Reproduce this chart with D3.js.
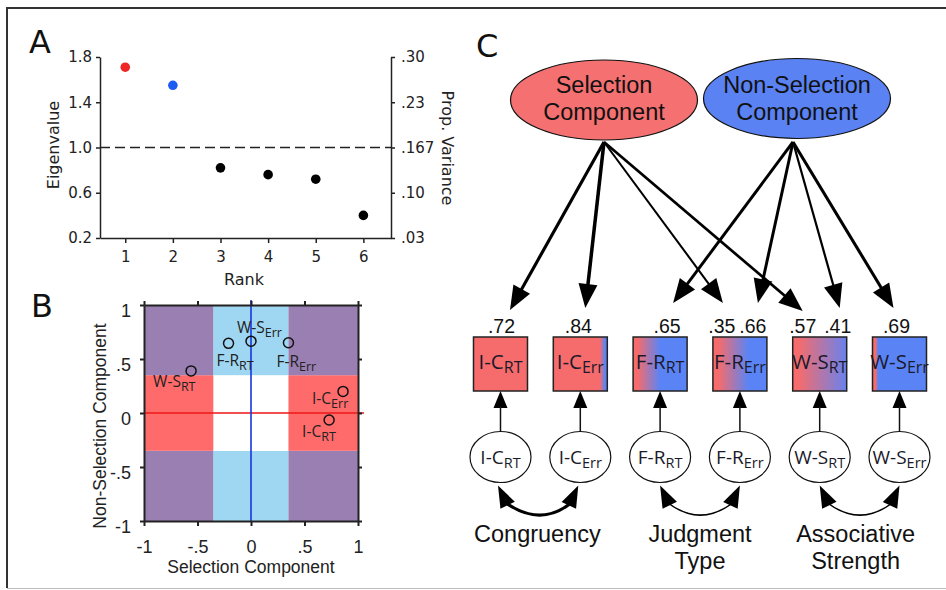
<!DOCTYPE html>
<html>
<head>
<meta charset="utf-8">
<script src="https://cdn.jsdelivr.net/npm/d3@7"></script>
<style>body{margin:0;background:#fff}</style>
</head>
<body>
<script>
// ---- data ----
// panel A: scree plot
var ranks = [1, 2, 3, 4, 5, 6];
var eigenvalues = [1.71, 1.55, 0.82, 0.76, 0.72, 0.40];
var eigenTicks = [0.2, 0.6, 1.0, 1.4, 1.8];
var varianceTickLabels = [".03", ".10", ".167", ".23", ".30"];

// panel B: loadings of each measure on the two components
var measures = ["I-C_RT", "I-C_Err", "F-R_RT", "F-R_Err", "W-S_RT", "W-S_Err"];
var measureMain = ["I-C", "I-C", "F-R", "F-R", "W-S", "W-S"];
var measureSub = ["RT", "Err", "RT", "Err", "RT", "Err"];
var selectionLoadings = [0.73, 0.86, -0.21, 0.35, -0.56, 0.0];
var nonSelectionLoadings = [-0.065, 0.20, 0.645, 0.65, 0.39, 0.665];
var loadingTicks = [-1, -0.5, 0, 0.5, 1];
var loadingTickLabels = ["-1", "-.5", "0", ".5", "1"];
var cutoff = 0.35;

// panel C: path diagram
var selTargets = ["I-C_RT", "I-C_Err", "F-R_Err", "W-S_RT"];
var selPathLoadings = [0.72, 0.84, 0.35, 0.57];
var nonSelTargets = ["F-R_RT", "F-R_Err", "W-S_RT", "W-S_Err"];
var nonSelPathLoadings = [0.65, 0.66, 0.41, 0.69];
var groupNames = [["Congruency"], ["Judgment", "Type"], ["Associative", "Strength"]];

// ---- style ----
var RED = "#f66c6c", BLUE = "#5a84f5";
var sans = "'Liberation Sans', Arial, sans-serif";
var lucida = "'DejaVu Sans', sans-serif";
var calibri = "'Open Sans', sans-serif";

var svg = d3.select("body").append("svg")
    .attr("width", 946)
    .attr("height", 590);

// frame
svg.append("path")
    .attr("d", "M946,8H7V588")
    .attr("fill", "none").attr("stroke", "#333").attr("stroke-width", 2);
svg.append("line")
    .attr("x1", 7).attr("x2", 946).attr("y1", 588.5).attr("y2", 588.5)
    .attr("stroke", "#bbb").attr("stroke-width", 1);

function panelLetter(x, y, t) {
    svg.append("text").attr("x", x).attr("y", y)
        .attr("font-family", lucida).attr("font-size", 32).attr("fill", "#111")
        .text(t);
}

function styleAxis(g, font, size, width) {
    g.attr("font-family", font).attr("font-size", size);
    g.selectAll(".domain").attr("stroke", "#222").attr("stroke-width", width);
    g.selectAll(".tick line").attr("stroke", "#222").attr("stroke-width", width);
    g.selectAll("text").attr("fill", "#222");
}

function subText(sel, main, sub, subSize, shift) {
    sel.append("tspan").text(main);
    sel.append("tspan").attr("font-size", subSize).attr("dy", shift).text(sub);
}

// ================= Panel A =================
panelLetter(29, 53, "A");

var xA = d3.scaleLinear().domain([0.47, 6.58]).range([100, 391]);
var yA = d3.scaleLinear().domain([0.2, 1.8]).range([238, 57]);
var yVar = d3.scaleLinear().domain([0.2 / 6, 1.8 / 6]).range([238, 57]);

var gA = svg.append("g");

gA.append("line")
    .attr("x1", xA.range()[0]).attr("x2", xA.range()[1])
    .attr("y1", yA(1.0)).attr("y2", yA(1.0))
    .attr("stroke", "#222").attr("stroke-width", 1.3)
    .attr("stroke-dasharray", "10,5");

var axL = gA.append("g").attr("transform", "translate(100,0)")
    .call(d3.axisLeft(yA).tickValues(eigenTicks).tickFormat(d3.format(".1f"))
        .tickSize(4).tickPadding(4).tickSizeOuter(0));
styleAxis(axL, lucida, 15, 1.5);

var axR = gA.append("g").attr("transform", "translate(391,0)")
    .call(d3.axisRight(yVar).tickValues(eigenTicks.map(v => v / 6))
        .tickFormat((d, i) => varianceTickLabels[i])
        .tickSize(4).tickPadding(6).tickSizeOuter(0));
styleAxis(axR, lucida, 15, 1.5);

var axB = gA.append("g").attr("transform", "translate(0,238)")
    .call(d3.axisBottom(xA).tickValues(ranks).tickFormat(d3.format("d"))
        .tickSize(5).tickPadding(8).tickSizeOuter(0));
styleAxis(axB, lucida, 15, 1.5);

gA.selectAll("circle.eig")
    .data(eigenvalues)
    .enter().append("circle")
    .attr("class", "eig")
    .attr("cx", (d, i) => xA(ranks[i]))
    .attr("cy", d => yA(d))
    .attr("r", 4.8)
    .attr("fill", (d, i) => i == 0 ? "#ee2626" : (i == 1 ? "#1d5cf2" : "#000"));

gA.append("text")
    .attr("transform", "translate(53,145) rotate(-90)")
    .attr("text-anchor", "middle").attr("dominant-baseline", "central")
    .attr("font-family", lucida).attr("font-size", 16).attr("fill", "#222")
    .text("Eigenvalue");
gA.append("text")
    .attr("transform", "translate(447,148) rotate(90)")
    .attr("text-anchor", "middle").attr("dominant-baseline", "central")
    .attr("font-family", lucida).attr("font-size", 16).attr("fill", "#222")
    .text("Prop. Variance");
gA.append("text")
    .attr("x", 244).attr("y", 285)
    .attr("text-anchor", "middle")
    .attr("font-family", lucida).attr("font-size", 16).attr("fill", "#222")
    .text("Rank");

// ================= Panel B =================
panelLetter(31, 317, "B");

var xB = d3.scaleLinear().domain([-1, 1]).range([144, 358]);
var yB = d3.scaleLinear().domain([-1, 1]).range([521, 305]);
var gB = svg.append("g");

// 3x3 background cells split at +/- cutoff
var bounds = [-1, -cutoff, cutoff, 1];
var cells = [];
for (var i = 0; i < 3; i++) {
    for (var j = 0; j < 3; j++) {
        var xOut = i != 1, yOut = j != 1;
        cells.push({
            x0: bounds[i], x1: bounds[i + 1], y0: bounds[j], y1: bounds[j + 1],
            fill: xOut && yOut ? "#9a7fb2" : (xOut ? "#ff6b6b" : (yOut ? "#9fd6f1" : "#fff"))
        });
    }
}
gB.selectAll("rect.cell")
    .data(cells)
    .enter().append("rect")
    .attr("class", "cell")
    .attr("x", d => xB(d.x0))
    .attr("y", d => yB(d.y1))
    .attr("width", d => xB(d.x1) - xB(d.x0))
    .attr("height", d => yB(d.y0) - yB(d.y1))
    .attr("fill", d => d.fill);

gB.append("line")
    .attr("x1", xB(-1)).attr("x2", xB(1) + 6)
    .attr("y1", yB(0)).attr("y2", yB(0))
    .attr("stroke", "#ee1616").attr("stroke-width", 1.6);
gB.append("line")
    .attr("x1", xB(0)).attr("x2", xB(0))
    .attr("y1", yB(1) - 5).attr("y2", yB(-1))
    .attr("stroke", "#1537e0").attr("stroke-width", 1.6);

var bl = gB.append("g").attr("transform", "translate(144,0)")
    .call(d3.axisLeft(yB).tickValues(loadingTicks)
        .tickFormat((d, i) => loadingTickLabels[i])
        .tickSize(4).tickPadding(9).tickSizeOuter(0));
styleAxis(bl, sans, 18, 2);
bl.selectAll("text").attr("dy", "0.62em");

var br = gB.append("g").attr("transform", "translate(358,0)")
    .call(d3.axisRight(yB).tickValues(loadingTicks).tickFormat("")
        .tickSize(4).tickSizeOuter(0));
styleAxis(br, sans, 18, 2);

var bt = gB.append("g").attr("transform", "translate(0,305)")
    .call(d3.axisTop(xB).tickValues(loadingTicks).tickFormat("")
        .tickSize(4).tickSizeOuter(0));
styleAxis(bt, sans, 18, 2);

var bb = gB.append("g").attr("transform", "translate(0,521)")
    .call(d3.axisBottom(xB).tickValues(loadingTicks)
        .tickFormat((d, i) => loadingTickLabels[i])
        .tickSize(5).tickPadding(14).tickSizeOuter(0));
styleAxis(bb, sans, 18, 2);

// label placement around each loading point (dx, dy from the point)
var bLabelOffset = [[-27, 17], [-31, 12.5], [-12, 23], [-12, 24], [-38, 16.5], [-14, -8]];

gB.selectAll("circle.load")
    .data(measures)
    .enter().append("circle")
    .attr("class", "load")
    .attr("cx", (d, i) => xB(selectionLoadings[i]))
    .attr("cy", (d, i) => yB(nonSelectionLoadings[i]))
    .attr("r", 5)
    .attr("fill", "none").attr("stroke", "#111").attr("stroke-width", 1.5);

gB.selectAll("text.load")
    .data(measures)
    .enter().append("text")
    .attr("class", "load")
    .attr("x", (d, i) => xB(selectionLoadings[i]) + bLabelOffset[i][0])
    .attr("y", (d, i) => yB(nonSelectionLoadings[i]) + bLabelOffset[i][1])
    .attr("font-family", calibri).attr("font-size", 15.5).attr("fill", "#222")
    .each(function (d, i) { subText(d3.select(this), measureMain[i], measureSub[i], 12.5, 4); });

gB.append("text")
    .attr("x", 251).attr("y", 573)
    .attr("text-anchor", "middle")
    .attr("font-family", sans).attr("font-size", 17.5).attr("fill", "#222")
    .text("Selection Component");
gB.append("text")
    .attr("transform", "translate(100,426) rotate(-90)")
    .attr("text-anchor", "middle").attr("dominant-baseline", "central")
    .attr("font-family", sans).attr("font-size", 17.5).attr("fill", "#222")
    .text("Non-Selection Component");

// ================= Panel C =================
panelLetter(476, 57, "C");

var gC = svg.append("g");
var xC = d3.scalePoint().domain(measures).range([500.5, 899.5]);
var boxSize = 54, boxTop = 337, errCy = 457;

// gradient fill of each observed-measure box
var boxStops = [
    [[0, RED], [1, RED]],
    [[0, RED], [0.86, RED], [0.96, BLUE], [1, BLUE]],
    [[0, RED], [0.08, RED], [0.5, BLUE], [1, BLUE]],
    [[0, RED], [0.1, RED], [0.66, BLUE], [1, BLUE]],
    [[0, RED], [0.1, RED], [1, "#6882ee"]],
    [[0, RED], [0.06, RED], [0.1, BLUE], [1, BLUE]]
];
var defs = svg.append("defs");
boxStops.forEach(function (stops, i) {
    var lg = defs.append("linearGradient").attr("id", "g" + i)
        .attr("x1", 0).attr("x2", 1).attr("y1", 0).attr("y2", 0);
    stops.forEach(s => lg.append("stop").attr("offset", s[0]).attr("stop-color", s[1]));
});

function arrowHead(g, tip, from, len, half) {
    var dx = tip[0] - from[0], dy = tip[1] - from[1];
    var d = Math.sqrt(dx * dx + dy * dy);
    var ux = dx / d, uy = dy / d;
    var bx = tip[0] - ux * len, by = tip[1] - uy * len;
    g.append("path")
        .attr("d", "M" + tip[0] + "," + tip[1] +
            "L" + (bx - uy * half) + "," + (by + ux * half) +
            "L" + (bx + uy * half) + "," + (by - ux * half) + "Z")
        .attr("fill", "#000");
    return [bx + ux * 2, by + uy * 2];
}

// component ellipses
var comps = [
    { cx: 604, cy: 100, fill: "#f57070", lines: ["Selection", "Component"] },
    { cx: 797, cy: 98.5, fill: "#5a82f3", lines: ["Non-Selection", "Component"] }
];
comps.forEach(function (c) {
    gC.append("ellipse")
        .attr("cx", c.cx).attr("cy", c.cy).attr("rx", 93.5).attr("ry", 40)
        .attr("fill", c.fill).attr("stroke", "#111").attr("stroke-width", 1.2);
    c.lines.forEach(function (t, k) {
        gC.append("text")
            .attr("x", c.cx).attr("y", 93 + k * 27)
            .attr("text-anchor", "middle")
            .attr("font-family", sans).attr("font-size", 23.5).attr("fill", "#111")
            .text(t);
    });
});

// loading paths: tip/label offsets from the target box centre
var selTipDx = [9.5, 5, -17, -17], selLabelDx = [1, -2, -18, -17];
var nonSelTipDx = [13, 18, 20, -6], nonSelLabelDx = [7, 13, 18, -3];
var tipY = [310, 308, 303, 311, 303, 303, 308, 308];

var paths = [];
selTargets.forEach((t, i) => paths.push({ o: [604, 142], t: t, v: selPathLoadings[i], tdx: selTipDx[i], ldx: selLabelDx[i] }));
nonSelTargets.forEach((t, i) => paths.push({ o: [793, 142], t: t, v: nonSelPathLoadings[i], tdx: nonSelTipDx[i], ldx: nonSelLabelDx[i] }));

paths.forEach(function (p, k) {
    var tip = [xC(p.t) + p.tdx, tipY[k]];
    var base = arrowHead(gC, tip, p.o, 24, 9.5);
    gC.append("line")
        .attr("x1", p.o[0]).attr("y1", p.o[1])
        .attr("x2", base[0]).attr("y2", base[1])
        .attr("stroke", "#000").attr("stroke-width", 1 + p.v * 3);
    gC.append("text")
        .attr("x", xC(p.t) + p.ldx).attr("y", 332.5)
        .attr("text-anchor", "middle")
        .attr("font-family", sans).attr("font-size", 19.5).attr("fill", "#111")
        .text(d3.format(".2f")(p.v).replace(/^0/, ""));
});

// observed measure boxes
measures.forEach(function (m, i) {
    var cx = xC(m);
    gC.append("rect")
        .attr("x", cx - boxSize / 2).attr("y", boxTop)
        .attr("width", boxSize).attr("height", boxSize)
        .attr("fill", "url(#g" + i + ")")
        .attr("stroke", "#222").attr("stroke-width", 1.5);
    var t = gC.append("text")
        .attr("x", cx).attr("y", 368.5)
        .attr("text-anchor", "middle")
        .attr("font-family", calibri).attr("font-size", 20.5).attr("fill", "#1a1a2a");
    subText(t, measureMain[i], measureSub[i], 16, 4);

    // unique factor ellipse and its arrow
    gC.append("ellipse")
        .attr("cx", cx).attr("cy", errCy).attr("rx", 30.5).attr("ry", 25.5)
        .attr("fill", "#fff").attr("stroke", "#111").attr("stroke-width", 1.2);
    var e = gC.append("text")
        .attr("x", cx).attr("y", 463.5)
        .attr("text-anchor", "middle")
        .attr("font-family", calibri).attr("font-size", 19).attr("fill", "#1a1a2a");
    subText(e, measureMain[i], measureSub[i], 14.5, 4);

    var b = arrowHead(gC, [cx, boxTop + boxSize], [cx, errCy - 25.5], 17, 7);
    gC.append("line")
        .attr("x1", cx).attr("x2", cx)
        .attr("y1", errCy - 25.5).attr("y2", b[1])
        .attr("stroke", "#111").attr("stroke-width", 1.5);
});

// correlated uniquenesses within each task pair
groupNames.forEach(function (lines, g) {
    var a = xC(measures[g * 2]), b = xC(measures[g * 2 + 1]);
    var mid = (a + b) / 2;
    var t1 = [a - (g == 0 ? 2.5 : 0), 485.5], t2 = [b - (g == 0 ? 2 : 0), 485.5];
    var b1 = [t1[0] + 10, 506], b2 = [t2[0] - 10, 506.5];
    arrowHead(gC, t1, b1, 22, 8);
    arrowHead(gC, t2, b2, 22, 8);
    gC.append("path")
        .attr("d", "M" + (b1[0] - 2) + "," + (b1[1] - 3) + "Q" + mid + ",527 " + (b2[0] + 2) + "," + (b2[1] - 3))
        .attr("fill", "none").attr("stroke", "#000").attr("stroke-width", g == 0 ? 3 : 1.5);
    lines.forEach(function (t, k) {
        gC.append("text")
            .attr("x", mid - (g == 0 ? 3 : (g == 2 ? 4 : 0))).attr("y", 541.5 + k * 27)
            .attr("text-anchor", "middle")
            .attr("font-family", sans).attr("font-size", 23.5).attr("fill", "#111")
            .text(t);
    });
});
</script>
</body>
</html>
